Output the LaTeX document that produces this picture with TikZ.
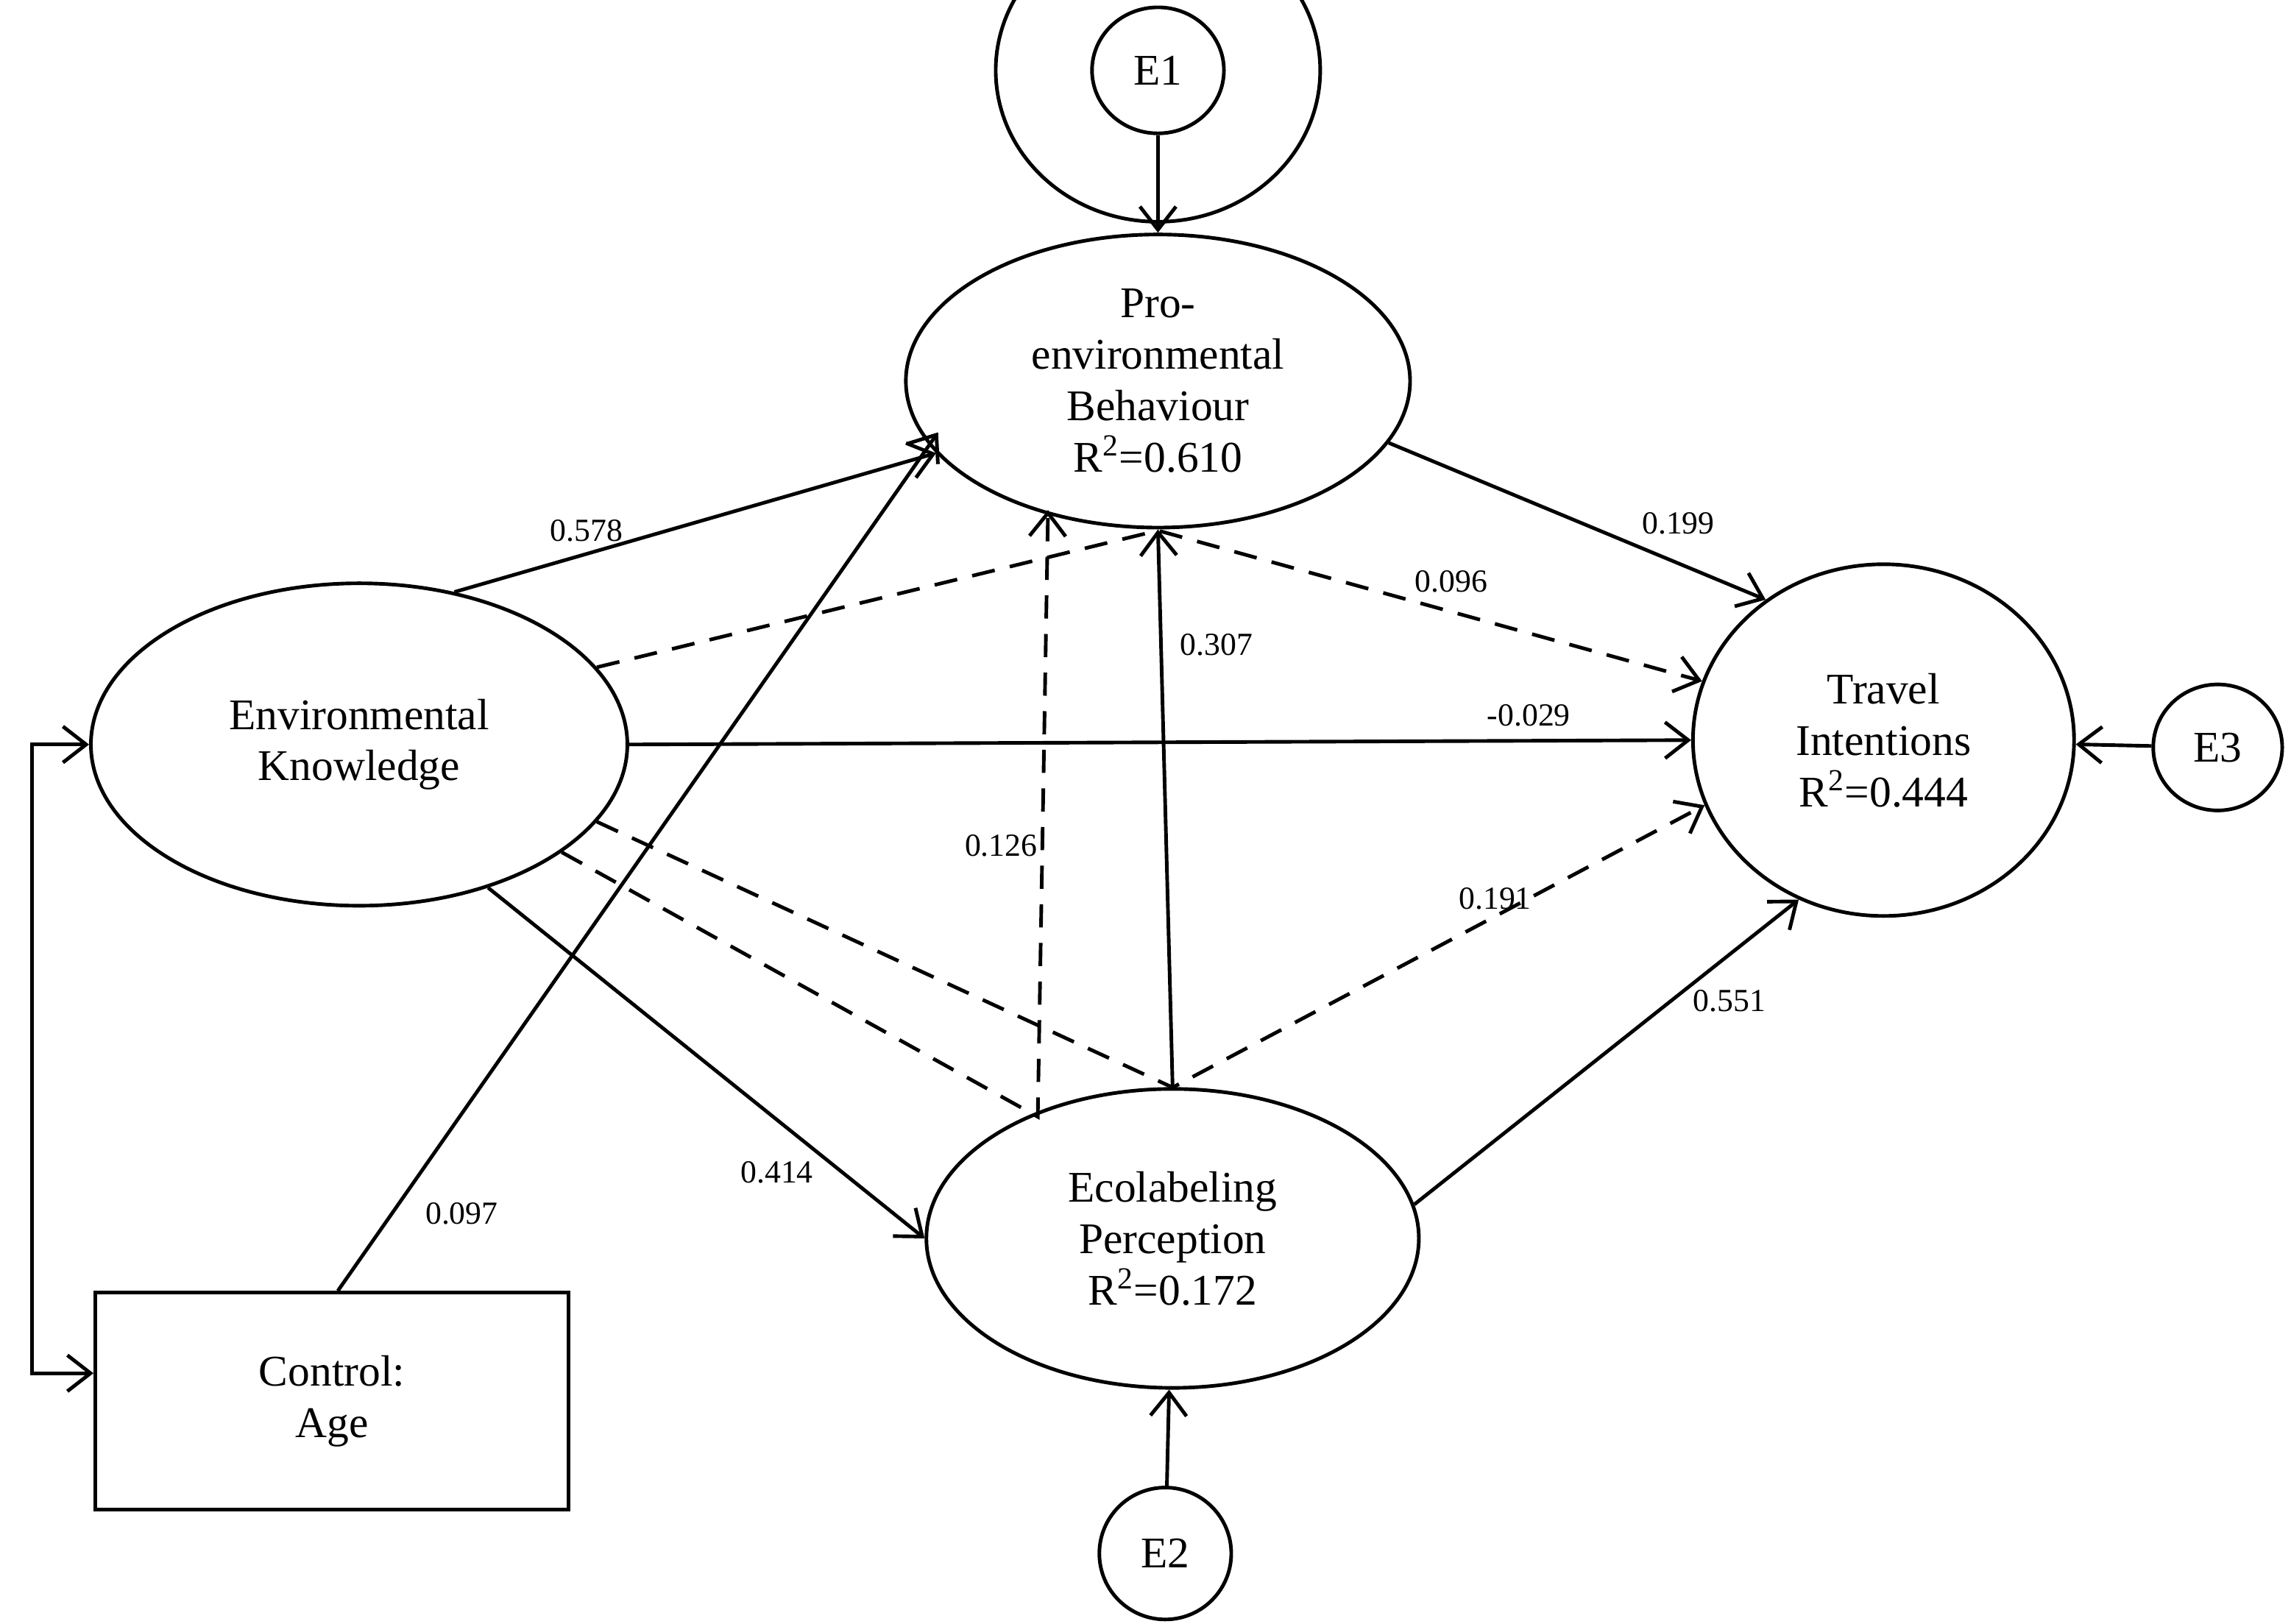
\documentclass[tikz,border=0pt]{standalone}
\usepackage{fontspec}
\setmainfont{Liberation Serif}
\usetikzlibrary{arrows.meta,shapes.geometric}
\begin{document}
\begin{tikzpicture}[x=0.02cm,y=-0.02cm,
  ell/.style={draw,line width=1.4pt,ellipse,align=center,font=\fontsize{17}{20}\selectfont},
  err/.style={draw,line width=1.4pt,ellipse,font=\fontsize{17}{20}\selectfont},
  arr/.style={line width=1.4pt,-{Straight Barb[length=9pt,width=14pt]}},
  dsh/.style={arr,dash pattern=on 9pt off 6pt},
  lab/.style={font=\fontsize{12.5}{14}\selectfont}]
\useasboundingbox (0,0) rectangle (1563,1108);
\node[err,minimum width=90\pgflinewidth,minimum height=84\pgflinewidth] (E1) at (790,48) {};
\node[ell,minimum width=344*0.02cm,minimum height=200*0.02cm] (PEB) at (790,260) {Pro-\\environmental\\Behaviour\\R\textsuperscript{2}=0.610};
\node[ell,minimum width=366*0.02cm,minimum height=220*0.02cm] (EK) at (245,508) {Environmental\\Knowledge};
\node[ell,minimum width=260*0.02cm,minimum height=240*0.02cm] (TI) at (1285,505) {Travel\\Intentions\\R\textsuperscript{2}=0.444};
\node[ell,minimum width=336*0.02cm,minimum height=204*0.02cm] (EP) at (800,845) {Ecolabeling\\Perception\\R\textsuperscript{2}=0.172};
\node[err,minimum width=90*0.02cm,minimum height=86*0.02cm] (E1) at (790,48) {E1};
\node[err,minimum width=90*0.02cm,minimum height=90*0.02cm] (E2) at (795,1060) {E2};
\node[err,minimum width=88*0.02cm,minimum height=86*0.02cm] (E3) at (1513,510) {E3};
\node[draw,line width=1.4pt,minimum width=323*0.02cm,minimum height=148*0.02cm,align=center,font=\fontsize{17}{20}\selectfont] (AGE) at (226.5,956) {Control:\\Age};
\coordinate (m1) at (790,362);
\coordinate (m2) at (708,762);
\coordinate (m3) at (800,742);
% solid
\draw[arr] (E1) -- (PEB);
\draw[arr] (E2) -- (EP);
\draw[arr] (E3) -- (TI);
\draw[arr] (EK.58) -- (PEB.198);
\draw[arr] (AGE.north) ++(4,0) coordinate (a0) (a0) -- (640,295);
\draw[arr] (PEB.-15) -- (TI.130);
\draw[arr] (EK.east) -- (TI.west);
\draw[arr] (EP.north) -- (PEB.south);
\draw[arr] (EK.-48) -- (EP.west);
\draw[arr] (EP.8) -- (TI.-118);
% dashed
\draw[dsh] (EK.18) -- (m1) -- (TI.162);
\draw[dsh] (EK.-28) -- (m2) -- (715,348);
\draw[dsh] (EK.-18) -- (m3) -- (TI.-160);
% bracket
\draw[line width=1.4pt,{Straight Barb[length=9pt,width=14pt]}-{Straight Barb[length=9pt,width=14pt]}] (EK.west) -- (22,508) -- (22,937) -- (AGE.west |- 0,937);
% labels
\node[lab] at (400,362) {0.578};
\node[lab] at (315,828) {0.097};
\node[lab] at (1145,357) {0.199};
\node[lab] at (990,397) {0.096};
\node[lab] at (1043,488) {-0.029};
\node[lab] at (830,440) {0.307};
\node[lab] at (683,577) {0.126};
\node[lab] at (1020,613) {0.191};
\node[lab] at (530,800) {0.414};
\node[lab] at (1180,683) {0.551};
\end{tikzpicture}
\end{document}
